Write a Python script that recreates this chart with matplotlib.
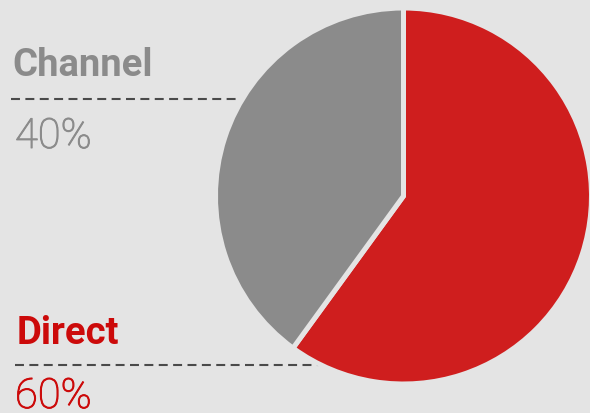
import matplotlib.pyplot as plt
import matplotlib.patheffects as pe

# data
labels = ['Direct', 'Channel']
shares = [60, 40]
pct_text = ['60%', '40%']

bg = '#e4e4e4'
red = '#cf1e1e'
gray = '#8b8b8b'
text_red = '#cc0a0a'

W, H = 590, 413
fig = plt.figure(figsize=(W / 100, H / 100), dpi=100, facecolor=bg)
ax = fig.add_axes([0, 0, 1, 1])
ax.set_facecolor(bg)

# pie, in pixel-like coordinates (y up)
wedges, _ = ax.pie(shares, colors=[red, gray], startangle=90, counterclock=False,
                   center=(403.5, H - 196), radius=188, frame=True,
                   wedgeprops=dict(edgecolor=bg, linewidth=3.6))
for w in wedges:
    w.set_zorder(3)
ax.set_xlim(0, W)
ax.set_ylim(0, H)
ax.set_aspect('equal')
ax.axis('off')


def pct(x, y, s, color):
    # light digits, thickened a little with a stroke of the same colour
    ax.text(x, y, s, color=color, fontsize=30, fontweight='light',
            family='Roboto', va='baseline', ha='left',
            path_effects=[pe.withStroke(linewidth=0.7, foreground=color)])


# Channel block
ax.text(12, H - 76, labels[1], color=gray, fontsize=27.5, fontweight='bold',
        family='Roboto', va='baseline', ha='left')
ax.plot([11, 237], [H - 99, H - 99], color='#4a4a4a', lw=1.5,
        dashes=(4.3, 2.6), zorder=1)
pct(15, H - 148, pct_text[1], gray)

# Direct block
ax.text(17, H - 344, labels[0], color=text_red, fontsize=27.5, fontweight='bold',
        family='Roboto', va='baseline', ha='left')
ax.plot([15, 345], [H - 365, H - 365], color='#4a4a4a', lw=1.5,
        dashes=(4.3, 2.6), zorder=1)
pct(15, H - 408, pct_text[0], text_red)

fig.savefig('out.png', dpi=100, facecolor=bg)
